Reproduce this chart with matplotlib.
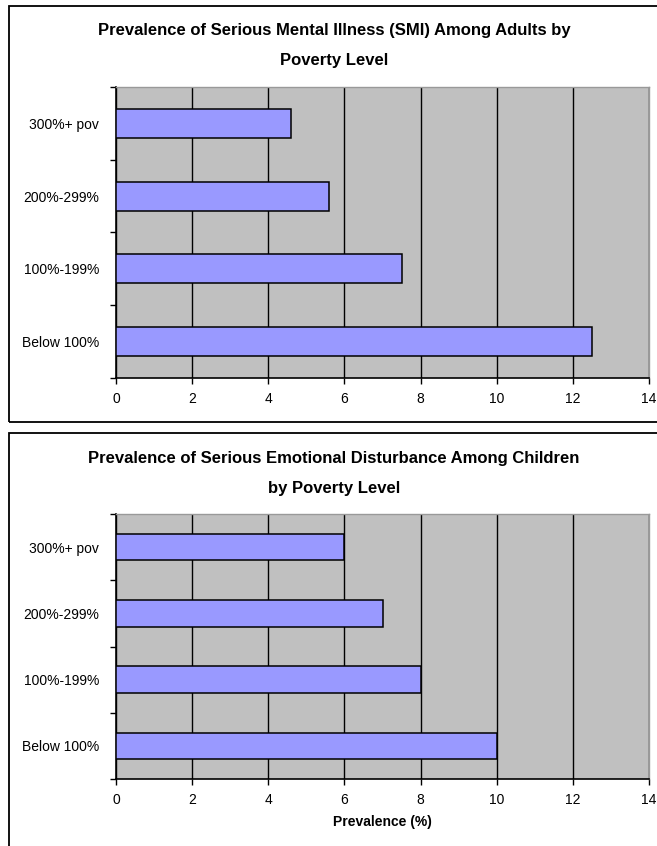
import matplotlib.pyplot as plt
from matplotlib.patches import Rectangle

plt.rcParams['font.family'] = ['Liberation Sans', 'DejaVu Sans']

# poverty groups, listed top to bottom
groups = ["300%+ pov", "200%-299%", "100%-199%", "Below 100%"]
adult_smi = [4.6, 5.6, 7.5, 12.5]
child_sed = [6, 7, 8, 10]
xticks = [0, 2, 4, 6, 8, 10, 12, 14]

W, H = 657, 846
fig = plt.figure(figsize=(W / 100, H / 100), dpi=100)


def px_axes(left, top, right, bottom):
    return fig.add_axes([left / W, 1 - bottom / H, (right - left) / W, (bottom - top) / H])


def panel_box(top, bottom):
    # chart border (runs off the right / bottom edge of the page)
    fig.add_artist(Rectangle((9 / W, 1 - bottom / H), (W + 20) / W, (bottom - top) / H,
                             transform=fig.transFigure, fill=False,
                             edgecolor="black", linewidth=1.3))


def bar_chart(ax, values):
    pos = list(range(len(groups)))
    ax.set_facecolor("#c0c0c0")
    ax.barh(pos, values, height=0.4, color="#9999ff", edgecolor="black",
            linewidth=1.1, zorder=3)
    ax.set_xlim(0, 14)
    ax.set_ylim(len(groups) - 0.5, -0.5)
    ax.set_xticks(xticks)
    ax.set_xticklabels([str(t) for t in xticks], fontsize=10)
    ax.grid(axis="x", color="black", linewidth=1, zorder=1)
    ax.grid(axis="y", visible=False)
    # ticks between categories, labels at the centres
    ax.set_yticks([p - 0.5 for p in pos] + [len(groups) - 0.5])
    ax.set_yticklabels([])
    ax.set_yticks(pos, minor=True)
    ax.set_yticklabels(groups, minor=True, fontsize=10)
    ax.tick_params(axis="y", which="minor", length=0, pad=12)
    ax.tick_params(axis="y", which="major", length=4, width=1, direction="out")
    ax.tick_params(axis="x", length=4, width=1, direction="out", pad=6)
    for s in ["top", "right"]:
        ax.spines[s].set_color("#999999")
        ax.spines[s].set_linewidth(1)
    for s in ["left", "bottom"]:
        ax.spines[s].set_color("black")
        ax.spines[s].set_linewidth(1.2)


# adults
panel_box(6, 422)
fig.text(334 / W, 1 - 31 / H, "Prevalence of Serious Mental Illness (SMI) Among Adults by",
         ha="center", va="center", fontsize=12, fontweight="bold")
fig.text(334 / W, 1 - 61 / H, "Poverty Level",
         ha="center", va="center", fontsize=12, fontweight="bold")
ax1 = px_axes(116, 87, 649, 378)
bar_chart(ax1, adult_smi)

# children
panel_box(433, H + 20)
fig.text(334 / W, 1 - 458 / H, "Prevalence of Serious Emotional Disturbance Among Children",
         ha="center", va="center", fontsize=12, fontweight="bold")
fig.text(334 / W, 1 - 488 / H, "by Poverty Level",
         ha="center", va="center", fontsize=12, fontweight="bold")
ax2 = px_axes(116, 514, 649, 779)
bar_chart(ax2, child_sed)
ax2.set_xlabel("Prevalence (%)", fontsize=10, fontweight="bold", labelpad=6)

fig.savefig("out.png", dpi=100)
